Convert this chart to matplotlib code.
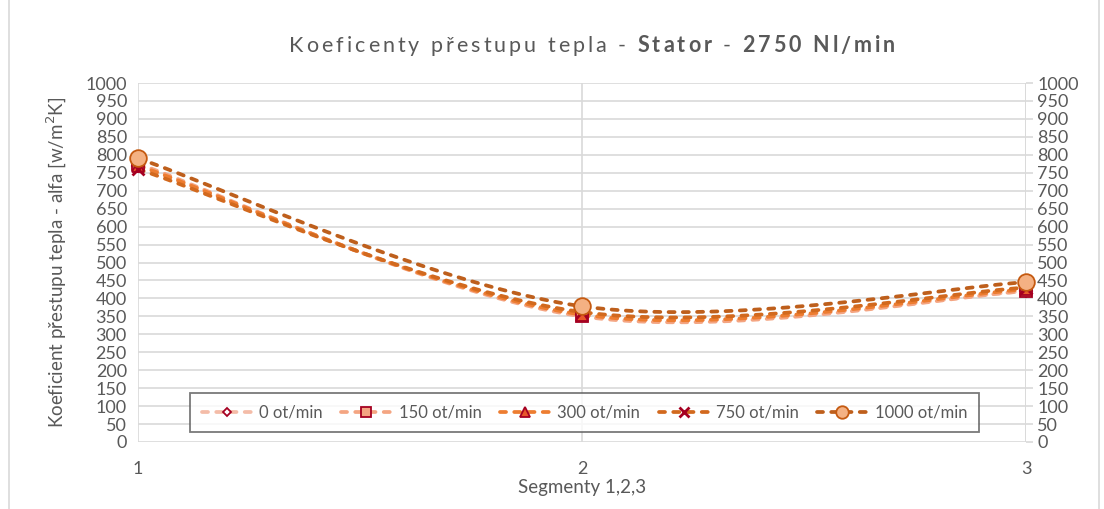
import numpy as np
import matplotlib
matplotlib.use("Agg")
import matplotlib.pyplot as plt
from matplotlib.lines import Line2D

plt.rcParams['font.family'] = ['Lato', 'DejaVu Sans']

segments = [1, 2, 3]
series_names = ["0 ot/min", "150 ot/min", "300 ot/min", "750 ot/min", "1000 ot/min"]
vals_0 = [770, 355, 420]
vals_150 = [775, 350, 420]
vals_300 = [770, 355, 425]
vals_750 = [760, 362, 430]
vals_1000 = [790, 378, 445]
y_ticks = list(range(0, 1001, 50))

line_colors = ["#F4BCA8", "#F4A582", "#ED7D31", "#D2691E", "#BE5F1C"]
markers = ["D", "s", "^", "x", "o"]
marker_faces = ["white", "#F4A582", "#E8572A", "#A50021", "#F4B183"]
marker_edges = ["#A50021", "#A50021", "#A50021", "#A50021", "#C55A11"]
marker_sizes = [6, 9, 9, 9, 12]

text_col = "#595959"
grid_col = "#D9D9D9"
dash = (0, (1.6, 2.2))


def smooth(xs, ys, n=60):
    """Bezier smoothing through the points (Catmull-Rom tangents)."""
    p = np.column_stack([np.asarray(xs, float), np.asarray(ys, float)])
    m = len(p)
    out = []
    for i in range(m - 1):
        prev_p = p[i - 1] if i > 0 else p[i]
        next_p = p[i + 2] if i + 2 < m else p[i + 1]
        c1 = p[i] + (p[i + 1] - prev_p) / 6.0
        c2 = p[i + 1] - (next_p - p[i]) / 6.0
        t = np.linspace(0, 1, n)[:, None]
        pts = ((1 - t) ** 3) * p[i] + 3 * ((1 - t) ** 2) * t * c1 \
            + 3 * (1 - t) * t ** 2 * c2 + t ** 3 * p[i + 1]
        out.append(pts if i == 0 else pts[1:])
    out = np.vstack(out)
    return out[:, 0], out[:, 1]


fig = plt.figure(figsize=(11.04, 5.09), dpi=100)
ax = fig.add_axes([138 / 1104, 1 - 442 / 509, 888 / 1104, 359 / 509])

all_vals = [vals_0, vals_150, vals_300, vals_750, vals_1000]
handles = []
for vals, name, lc, mk, mf, me, ms in zip(all_vals, series_names, line_colors,
                                          markers, marker_faces, marker_edges, marker_sizes):
    sx, sy = smooth(segments, vals)
    mew = 2.0 if mk == "x" else 1.3
    ax.plot(sx, sy, color=lc, lw=2.7, linestyle=dash,
            dash_capstyle="round", zorder=3)
    ax.plot(segments, vals, linestyle="none", marker=mk, markersize=ms,
            markerfacecolor=mf, markeredgecolor=me, markeredgewidth=mew,
            zorder=4, clip_on=False)
    handles.append(Line2D([0], [0], color=lc, lw=2.7, linestyle=dash,
                          dash_capstyle="round", marker=mk, markersize=ms * 0.75,
                          markerfacecolor=mf, markeredgecolor=me,
                          markeredgewidth=mew))

ax.set_xlim(1, 3)
ax.set_ylim(0, 1000)
ax.set_xticks(segments)
ax.set_xticklabels([str(s) for s in segments])
ax.set_yticks(y_ticks)
ax.set_yticklabels([str(v) for v in y_ticks])
ax.grid(True, color=grid_col, lw=1.2, zorder=0)
for sp in ax.spines.values():
    sp.set_visible(False)
ax.axvline(3, color=grid_col, lw=1.2, zorder=0)

ax.tick_params(axis="x", length=0, pad=14, labelsize=13, labelcolor=text_col)
ax.tick_params(axis="y", which="both", left=False, right=True, labelright=True,
               labelleft=True, length=5, color=grid_col, width=1.2, pad=3,
               labelsize=13, labelcolor=text_col)

ax.set_xlabel("Segmenty 1,2,3", fontsize=13.5, color=text_col, labelpad=1)
ax.set_ylabel("Koeficient přestupu tepla - alfa [w/m$^2$K]", fontsize=13.5,
              color=text_col, labelpad=12)

# title laid out character by character with letter spacing
title_parts = [("Koeficenty přestupu tepla - ", "normal"), ("Stator", "bold"),
               (" - ", "normal"), ("2750 Nl/min", "bold")]
renderer = fig.canvas.get_renderer()
chars = []
for txt, wt in title_parts:
    for ch in txt:
        chars.append((ch, wt))
title_fs = 15.5
title_y = 1 - 46 / 509
spacing = 3.0
items = []
total = 0.0
for ch, wt in chars:
    if ch == " ":
        probe = fig.text(0, 0, "a a", fontsize=title_fs, fontweight=wt)
        probe2 = fig.text(0, 0, "aa", fontsize=title_fs, fontweight=wt)
        w = probe.get_window_extent(renderer).width - probe2.get_window_extent(renderer).width
        probe.remove()
        probe2.remove()
        t = None
    else:
        t = fig.text(0, title_y, ch, fontsize=title_fs, fontweight=wt, color=text_col,
                     va="center", ha="left")
        w = t.get_window_extent(renderer).width
    items.append((t, w))
    total += w + spacing
total -= spacing
x0 = 592 - total / 2
for t, w in items:
    if t is not None:
        t.set_x(x0 / 1104)
    x0 += w + spacing

leg = ax.legend(handles, series_names, ncol=5, loc="lower left",
                bbox_to_anchor=(52 / 888, 10 / 359), frameon=True, fancybox=False,
                edgecolor="#595959", fontsize=12, handlelength=3.0,
                columnspacing=1.1, handletextpad=0.45, borderpad=0.7,
                borderaxespad=0, labelcolor=text_col)
leg.get_frame().set_linewidth(1.3)

# outer chart frame
fig.add_artist(Line2D([9 / 1104, 9 / 1104], [0, 1], color=grid_col, lw=1.2))
fig.add_artist(Line2D([1099 / 1104, 1099 / 1104], [0, 1], color=grid_col, lw=1.2))

fig.savefig("out.png", dpi=100, facecolor="white")
